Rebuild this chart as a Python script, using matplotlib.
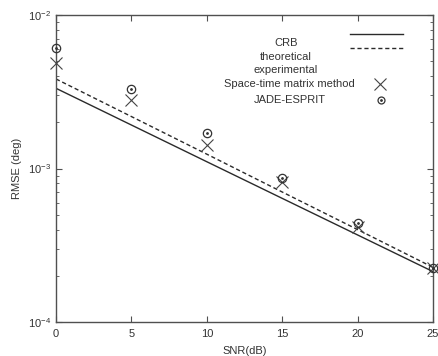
import matplotlib
matplotlib.use("Agg")
import matplotlib.pyplot as plt
from matplotlib.lines import Line2D

plt.rcParams['font.family'] = ['Liberation Sans', 'DejaVu Sans']

snr = [0, 5, 10, 15, 20, 25]
crb = [3.33e-3, 1.92e-3, 1.107e-3, 6.39e-4, 3.69e-4, 2.13e-4]
theoretical = [3.83e-3, 2.18e-3, 1.24e-3, 7.03e-4, 4.0e-4, 2.27e-4]
space_time = [4.89e-3, 2.79e-3, 1.42e-3, 8.2e-4, 4.18e-4, 2.25e-4]
jade_esprit = [6.07e-3, 3.28e-3, 1.71e-3, 8.7e-4, 4.43e-4, 2.26e-4]

xticks = [0, 5, 10, 15, 20, 25]

W, H = 439, 356
fig = plt.figure(figsize=(W / 100, H / 100), dpi=100)
fig.patch.set_facecolor('white')
ax = fig.add_axes([56 / W, 1 - 322 / H, (433 - 56) / W, (322 - 15) / H])

txtc = '#333333'
linec = '#2a2a2a'

ax.plot(snr, crb, '-', color=linec, lw=1.0)
ax.plot(snr, theoretical, '--', color=linec, lw=1.0, dashes=(3, 2))
ax.plot(snr, space_time, 'x', color='#444444', ms=8.5, mew=0.8, clip_on=False, zorder=5)
ax.plot(snr, jade_esprit, 'o', mfc='none', mec='#333333', ms=6, mew=0.9, clip_on=False, zorder=5)
ax.plot(snr, jade_esprit, '.', color='#333333', ms=2, clip_on=False, zorder=5)

ax.set_yscale('log')
ax.set_xlim(0, 25)
ax.set_ylim(1e-4, 1e-2)
ax.set_xticks(xticks)
ax.set_xticklabels([str(t) for t in xticks])

for s in ax.spines.values():
    s.set_color('#505050')
    s.set_linewidth(1.0)
ax.tick_params(which='both', direction='in', top=True, right=True, colors='#505050',
               labelcolor=txtc, labelsize=8)
ax.tick_params(which='major', length=4)
ax.tick_params(which='minor', length=2)
ax.tick_params(axis='x', pad=5)

ax.set_xlabel('SNR(dB)', fontsize=8, color=txtc, labelpad=5)
ax.set_ylabel('RMSE (deg)', fontsize=8, color=txtc, labelpad=4)

# legend-like annotation block (text centered, samples on right)
def fx(px):
    return (px - 56) / (433 - 56)

def fy(py):
    return 1 - (py - 15) / (322 - 15)

tx = fx(286)
ax.text(tx, fy(43), 'CRB', ha='center', va='center', fontsize=8, color=txtc, transform=ax.transAxes)
ax.text(tx, fy(57), 'theoretical', ha='center', va='center', fontsize=8, color=txtc, transform=ax.transAxes)
ax.text(tx, fy(70), 'experimental', ha='center', va='center', fontsize=8, color=txtc, transform=ax.transAxes)
ax.text(fx(289), fy(84), 'Space-time matrix method', ha='center', va='center', fontsize=8, color=txtc, transform=ax.transAxes)
ax.text(fx(290), fy(100), 'JADE-ESPRIT', ha='center', va='center', fontsize=8, color=txtc, transform=ax.transAxes)

ax.add_line(Line2D([fx(350), fx(403)], [fy(34), fy(34)], color=linec, lw=1.0, transform=ax.transAxes))
ax.add_line(Line2D([fx(350), fx(403)], [fy(48), fy(48)], color=linec, lw=1.0, ls='--', dashes=(3, 2), transform=ax.transAxes))
ax.plot([fx(380)], [fy(84)], 'x', color='#444444', ms=8.5, mew=0.8, transform=ax.transAxes)
ax.plot([fx(381)], [fy(100)], 'o', mfc='none', mec='#333333', ms=5, mew=0.9, transform=ax.transAxes)
ax.plot([fx(381)], [fy(100)], '.', color='#333333', ms=2, transform=ax.transAxes)

fig.savefig('out.png', dpi=100, facecolor='white')
